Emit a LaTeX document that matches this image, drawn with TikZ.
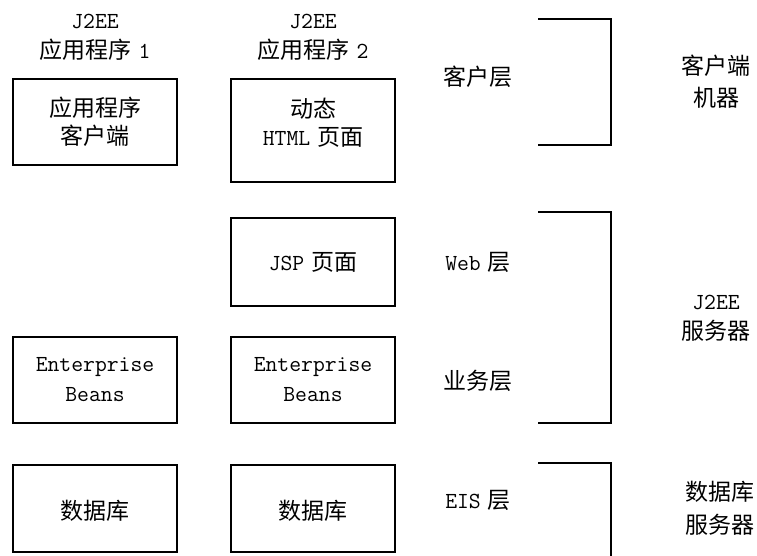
\documentclass[tikz,border=0pt]{standalone}
\usepackage{fontspec}
\setmonofont{Latin Modern Mono}
\newfontfamily\zhfont{Noto Sans CJK SC}
\newcommand{\zh}[1]{{\zhfont #1}}
\newcommand{\zsp}{\hspace{0.3em}}
\begin{document}
\begin{tikzpicture}[x=1pt,y=-1pt,
  every node/.style={font=\ttfamily\fontsize{23}{30}\selectfont, align=center, inner sep=0pt},
  box/.style={draw, line width=1.6pt, minimum width=164pt, inner sep=0pt},
  brk/.style={line width=1.6pt}]
\useasboundingbox[fill=white] (0,0) rectangle (757,556);
% column headings
\node (h1) at (95,37) {J2EE\\\zh{应用程序}\zsp 1};
\node (h2) at (313,37) {J2EE\\\zh{应用程序}\zsp 2};
% boxes
\node[box, minimum height=86pt, font=\ttfamily\fontsize{23}{28}\selectfont] (b1) at (95,122) {\zh{应用程序}\\\zh{客户端}};
\node[box, minimum height=103pt] (b2) at (313,130.5) {};
\node[font=\ttfamily\fontsize{23}{28}\selectfont] (t2) at (313,123) {\zh{动态}\\HTML\zsp\zh{页面}};
\node[box, minimum height=88pt] (jsp) at (313,262) {JSP\zsp\zh{页面}};
\node[box, minimum height=86pt] (eb1) at (95,380) {Enterprise\\Beans};
\node[box, minimum height=86pt] (eb2) at (313,380) {Enterprise\\Beans};
\node[box, minimum height=87pt] (db1) at (95,508.5) {};
\node (db1t) at (95,511) {\zh{数据库}};
\node[box, minimum height=87pt] (db2) at (313,508.5) {};
\node (db2t) at (313,511) {\zh{数据库}};
% tier labels
\node (tclient) at (478,77) {\zh{客户层}};
\node (tweb) at (478,262) {Web\zsp\zh{层}};
\node (tbiz) at (478,381) {\zh{业务层}};
\node (teis) at (478,500) {EIS\zsp\zh{层}};
% machine labels
\node[font=\ttfamily\fontsize{23}{32}\selectfont] (m1) at (716,82) {\zh{客户端}\\\zh{机器}};
\node (m2) at (716,318) {J2EE\\\zh{服务器}};
\node[font=\ttfamily\fontsize{23}{33}\selectfont] (m3) at (720,508) {\zh{数据库}\\\zh{服务器}};
% brackets
\coordinate (a1) at (538,19); \coordinate (a2) at (538,145);
\coordinate (c1) at (538,212); \coordinate (c2) at (538,423);
\coordinate (e1) at (538,463); \coordinate (e2) at (611,556);
\draw[brk] (a1) -- ++(73,0) |- (a2);
\draw[brk] (c1) -- ++(73,0) |- (c2);
\draw[brk] (e1) -| (e2);
\end{tikzpicture}
\end{document}
